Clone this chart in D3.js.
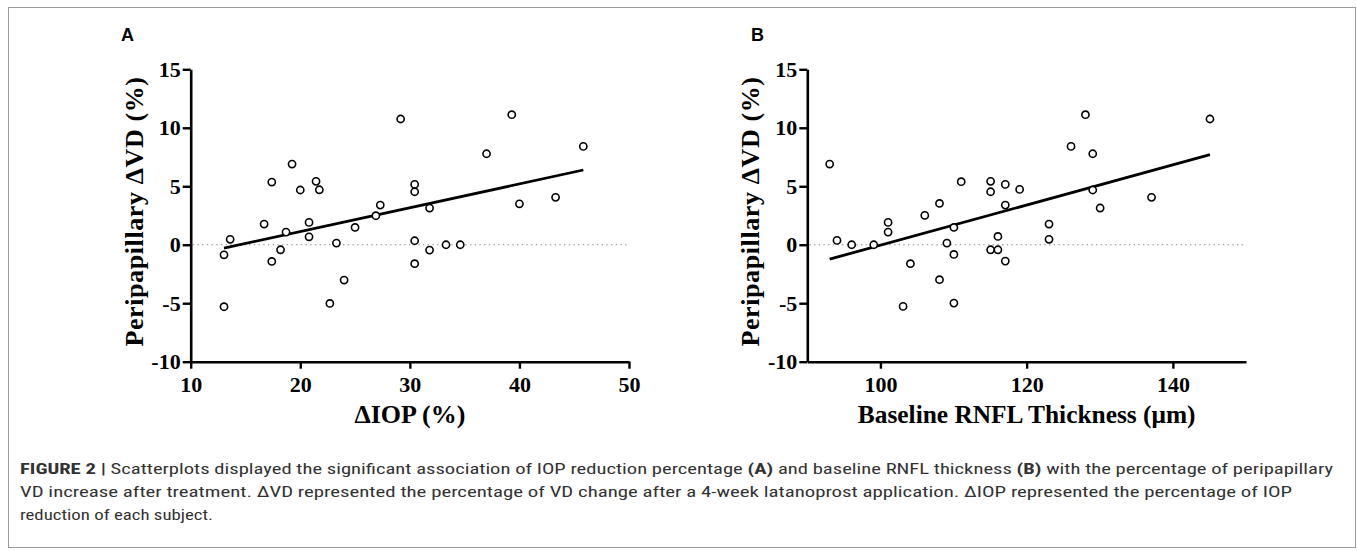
<!DOCTYPE html>
<html>
<head>
<meta charset="utf-8">
<script src="https://cdn.jsdelivr.net/npm/d3@7"></script>
<style>
  html, body { margin: 0; padding: 0; background: #fff; }
  svg { display: block; }
</style>
</head>
<body>
<svg id="chart" width="1357" height="551"></svg>
<script>
// ---- Data ----
const iopA = [13.04, 13.04, 13.6, 16.7, 17.4, 17.4, 18.2, 18.7, 19.25, 20.0, 20.8, 20.8, 21.44, 21.74, 22.7, 23.3, 24.0, 25.0, 26.9, 27.3, 29.16, 30.44, 30.44, 30.44, 30.44, 31.8, 31.8, 33.3, 34.6, 37.0, 39.3, 40.0, 43.3, 45.83];
const vdA  = [-0.86, -5.3, 0.46, 1.77, 5.36, -1.43, -0.43, 1.08, 6.9, 4.68, 1.91, 0.68, 5.42, 4.7, -5.02, 0.14, -3.02, 1.48, 2.48, 3.39, 10.75, 5.16, 4.53, 0.34, -1.62, 3.14, -0.46, 0.0, 0.0, 7.78, 11.12, 3.5, 4.05, 8.41];
const fitA = [[13.04, -0.29], [45.83, 6.39]];

const rnflB = [93.06, 94.06, 96.07, 99.09, 101.05, 101.05, 103.1, 104.1, 106.07, 108.08, 108.08, 109.09, 110.05, 110.05, 110.05, 111.05, 115.07, 115.07, 115.07, 116.07, 116.07, 117.08, 117.08, 117.08, 119.04, 123.06, 123.06, 126.07, 128.04, 129.04, 129.04, 130.05, 137.08, 145.07];
const vdB   = [6.9, 0.37, 0.0, 0.0, 1.91, 1.08, -5.27, -1.62, 2.51, 3.53, -2.99, 0.14, 1.48, -0.83, -4.99, 5.39, 5.42, 4.53, -0.43, 0.71, -0.43, 5.16, 3.39, -1.4, 4.73, 1.77, 0.46, 8.41, 11.12, 7.78, 4.68, 3.14, 4.05, 10.75];
const fitB = [[93.06, -1.23], [145.07, 7.70]];

const yTicks  = [-10, -5, 0, 5, 10, 15];
const xTicksA = [10, 20, 30, 40, 50];
const xTicksB = [100, 120, 140];

const yLabel  = "Peripapillary \u0394VD (%)";
const xLabelA = "\u0394IOP (%)";
const xLabelB = "Baseline RNFL Thickness (\u03bcm)";
const panelLabels = ["A", "B"];

const captionBold = "FIGURE 2 |";
const captionLines = [
  " Scatterplots displayed the significant association of IOP reduction percentage ",
  "VD increase after treatment. \u0394VD represented the percentage of VD change after a 4-week latanoprost application. \u0394IOP represented the percentage of IOP",
  "reduction of each subject."
];

// ---- Drawing ----
const svg = d3.select("#chart");
const serif = "'Liberation Serif', 'Times New Roman', serif";

// outer frame
svg.append("rect").attr("x", 8.5).attr("y", 7.5).attr("width", 1347).attr("height", 540)
  .attr("fill", "none").attr("stroke", "#9a9a9a").attr("stroke-width", 1);

function panel(cfg) {
  const x = d3.scaleLinear().domain(cfg.xDomain).range(cfg.xRange);
  const y = d3.scaleLinear().domain([-10, 15]).range([361.7, 69.3]);
  const g = svg.append("g");

  // zero dotted line
  g.append("line")
    .attr("x1", x.range()[0] + 2).attr("x2", x.range()[1])
    .attr("y1", y(0)).attr("y2", y(0))
    .attr("stroke", "#8a8a8a").attr("stroke-width", 1.1)
    .attr("stroke-dasharray", "1.4,3.3");

  // axes
  const yAxis = d3.axisLeft(y).tickValues(yTicks).tickFormat(d => String(d))
    .tickSize(8).tickSizeOuter(0).tickPadding(2);
  const xAxis = d3.axisBottom(x).tickValues(cfg.xTicks).tickFormat(d => String(d))
    .tickSize(7).tickSizeOuter(0).tickPadding(8);

  const gy = g.append("g").attr("transform", `translate(${x.range()[0]},0)`).call(yAxis);
  const gx = g.append("g").attr("transform", `translate(0,${y.range()[0]})`).call(xAxis);
  [gx, gy].forEach(a => {
    a.select(".domain").attr("stroke", "#000").attr("stroke-width", 2.6);
    a.selectAll(".tick line").attr("stroke", "#000").attr("stroke-width", 2.4);
    a.selectAll(".tick text").attr("fill", "#000")
      .style("font-family", serif).style("font-weight", "bold").style("font-size", "22px");
  });

  // regression line
  g.append("path")
    .datum(cfg.fit)
    .attr("d", d3.line().x(d => x(d[0])).y(d => y(d[1])))
    .attr("stroke", "#000").attr("stroke-width", 2.8).attr("fill", "none");

  // points
  g.selectAll("circle.pt")
    .data(cfg.xs.map((v, i) => [v, cfg.ys[i]]))
    .join("circle").attr("class", "pt")
    .attr("cx", d => x(d[0])).attr("cy", d => y(d[1])).attr("r", 3.6)
    .attr("fill", "#fff").attr("stroke", "#000").attr("stroke-width", 1.6);

  // axis labels
  g.append("text")
    .attr("transform", `translate(${x.range()[0] - 48},${(y.range()[0] + y.range()[1]) / 2 - 4}) rotate(-90)`)
    .attr("text-anchor", "middle")
    .style("font-family", serif).style("font-weight", "bold").style("font-size", "26px")
    .style("letter-spacing", "0.6px")
    .text(yLabel);
  g.append("text")
    .attr("x", (x.range()[0] + x.range()[1]) / 2).attr("y", 423)
    .attr("text-anchor", "middle")
    .style("font-family", serif).style("font-weight", "bold").style("font-size", cfg.xLabelSize)
    .text(cfg.xLabel);

  // panel letter
  g.append("text")
    .attr("x", cfg.letterX).attr("y", 41)
    .style("font-family", "'Liberation Sans', Arial, sans-serif").style("font-weight", "bold").style("font-size", "18px")
    .text(cfg.letter);
}

panel({ xDomain: [10, 50], xRange: [190.7, 629], xTicks: xTicksA, xs: iopA, ys: vdA, fit: fitA, xLabel: xLabelA, xLabelSize: "26px", letter: panelLabels[0], letterX: 121 });
panel({ xDomain: [90, 150], xRange: [807.3, 1246], xTicks: xTicksB, xs: rnflB, ys: vdB, fit: fitB, xLabel: xLabelB, xLabelSize: "25.4px", letter: panelLabels[1], letterX: 751 });

// caption
const capFont = "'Roboto Condensed', 'DejaVu Sans Condensed', 'Liberation Sans Narrow', 'Liberation Sans', Arial, sans-serif";
const cap = svg.append("g").style("font-family", capFont).style("font-size", "15.5px").attr("fill", "#333");
const l1 = cap.append("text").attr("x", 20).attr("y", 474).attr("textLength", 1313).attr("lengthAdjust", "spacingAndGlyphs");
l1.append("tspan").style("font-weight", "bold").text(captionBold);
l1.append("tspan").text(captionLines[0]);
l1.append("tspan").style("font-weight", "bold").text("(A)");
l1.append("tspan").text(" and baseline RNFL thickness ");
l1.append("tspan").style("font-weight", "bold").text("(B)");
l1.append("tspan").text(" with the percentage of peripapillary");
cap.append("text").attr("x", 20).attr("y", 497).attr("textLength", 1272).attr("lengthAdjust", "spacingAndGlyphs").text(captionLines[1]);
cap.append("text").attr("x", 20).attr("y", 520).attr("textLength", 193).attr("lengthAdjust", "spacingAndGlyphs").text(captionLines[2]);
</script>
</body>
</html>
